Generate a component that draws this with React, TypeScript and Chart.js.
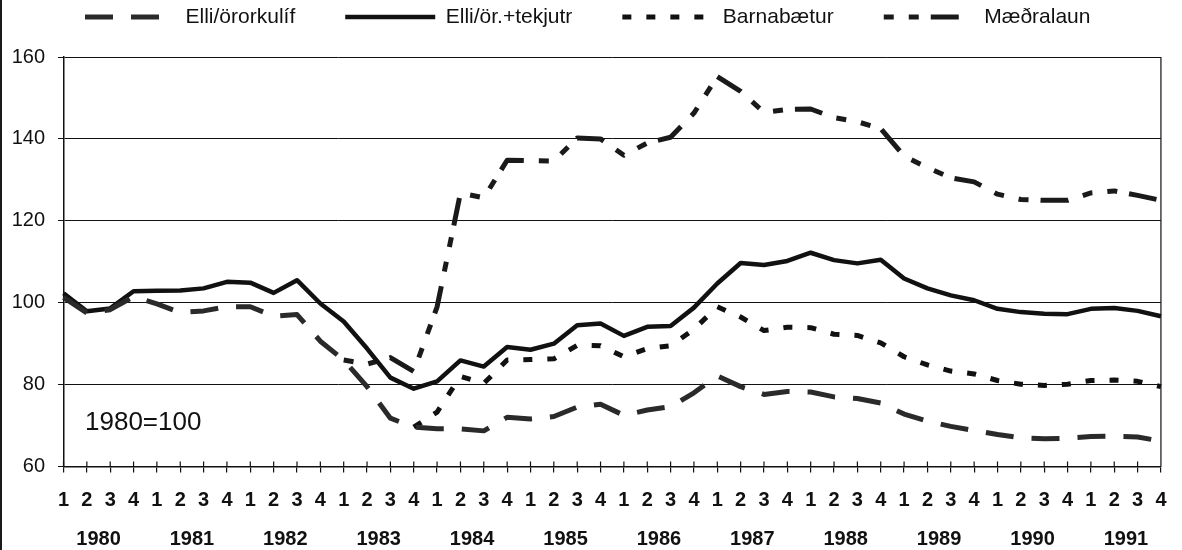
import React, { useEffect, useRef } from 'react';
import { Chart, registerables } from 'chart.js';

Chart.register(...registerables);

// ---- data ----
const years = ['1980', '1981', '1982', '1983', '1984', '1985', '1986', '1987', '1988', '1989', '1990', '1991'];
const quarterNames = ['1', '2', '3', '4'];
const quarterLabels = years.flatMap(() => quarterNames);

const seriesNames = ['Elli/örorkulíf', 'Elli/ör.+tekjutr', 'Barnabætur', 'Mæðralaun'];

const elliOrorkulif = [
  101.3, 97.5, 98.3, 101.5,
  99.7, 97.6, 98.0, 99.0,
  99.0, 96.7, 97.1, 90.6,
  86.0, 79.5, 71.8, 69.6,
  69.2, 69.2, 68.7, 72.0,
  71.6, 72.2, 74.5, 75.2,
  72.5, 73.8, 74.6, 78.0,
  82.1, 79.5, 77.6, 78.3,
  78.2, 77.0, 76.6, 75.5,
  72.8, 71.1, 69.8, 68.8,
  67.8, 67.0, 66.8, 66.9,
  67.3, 67.4, 67.2, 66.2,
];

const elliTekjutr = [
  102.3, 97.9, 98.6, 102.8,
  102.9, 103.0, 103.5, 105.1,
  104.9, 102.4, 105.5, 99.8,
  95.4, 88.8, 81.7, 79.0,
  80.8, 85.9, 84.4, 89.2,
  88.5, 90.0, 94.5, 94.9,
  91.9, 94.1, 94.3, 98.8,
  104.7, 109.7, 109.2, 110.2,
  112.2, 110.4, 109.6, 110.5,
  105.9, 103.5, 101.8, 100.6,
  98.5, 97.7, 97.3, 97.2,
  98.5, 98.7, 98.0, 96.7,
];

const barnabaetur = [
  101.3, 97.5, 98.3, 101.5,
  99.7, 97.6, 98.0, 99.0,
  99.0, 96.7, 97.1, 90.6,
  86.0, 79.5, 71.8, 69.6,
  73.3, 82.0, 80.3, 86.0,
  86.1, 86.3, 89.6, 89.5,
  86.8, 88.8, 89.5, 93.5,
  99.0, 96.5, 93.2, 94.0,
  93.9, 92.3, 92.0, 90.2,
  86.8, 84.8, 83.3, 82.6,
  81.0, 80.1, 79.8, 80.1,
  81.0, 81.1, 80.8, 79.5,
];

const maedralaun = [
  101.3, 97.5, 98.3, 101.5,
  99.7, 97.6, 98.0, 99.0,
  99.0, 96.7, 97.1, 90.6,
  86.0, 85.0, 86.6, 83.2,
  99.0, 126.8, 125.6, 134.8,
  134.7, 134.6, 140.2, 140.0,
  136.0, 139.0, 140.4, 146.3,
  155.2, 151.6, 146.5, 147.2,
  147.3, 145.2, 144.2, 142.5,
  135.8, 133.0, 130.5, 129.5,
  126.5, 125.2, 125.0, 125.0,
  126.8, 127.3, 126.2, 125.0,
];

const yMin = 60;
const yMax = 160;
const yStep = 20;
const baseNote = '1980=100';

const FONT = '"Liberation Sans", Arial, Helvetica, sans-serif';
const INK = '#111111';

// hide the stretch where a series lies exactly on top of Elli/örorkulíf
const hideShared = (series: number[]) => (ctx: any) => {
  const i0 = ctx.p0DataIndex;
  const i1 = ctx.p1DataIndex;
  return series[i0] === elliOrorkulif[i0] && series[i1] === elliOrorkulif[i1]
    ? 'rgba(0,0,0,0)'
    : undefined;
};

const framePlugin = {
  id: 'frameTicks',
  afterDraw(chart: any) {
    const { ctx, chartArea: a, scales } = chart;
    const xs = scales.x;
    ctx.save();
    ctx.strokeStyle = INK;
    ctx.lineWidth = 1.2;
    ctx.beginPath();
    for (let i = 0; i < xs.ticks.length; i++) {
      const px = xs.getPixelForTick(i);
      ctx.moveTo(px, a.bottom - 5);
      ctx.lineTo(px, a.bottom);
    }
    ctx.moveTo(a.right, a.top);
    ctx.lineTo(a.right, a.bottom);
    ctx.stroke();
    ctx.fillStyle = INK;
    ctx.font = `26px ${FONT}`;
    ctx.textAlign = 'left';
    ctx.textBaseline = 'middle';
    ctx.fillText(baseNote, a.left + 21.5, scales.y.getPixelForValue(70.6));
    ctx.restore();
  },
};

export default function App() {
  const ref = useRef<HTMLCanvasElement>(null);

  useEffect(() => {
    const canvas = ref.current;
    if (!canvas) return;
    Chart.defaults.font.family = FONT;
    const common = {
      pointRadius: 0,
      pointHoverRadius: 0,
      tension: 0,
      fill: false,
      borderCapStyle: 'butt',
      borderJoinStyle: 'round',
      xAxisID: 'x',
      yAxisID: 'y',
    };
    const defaultLabels = (Chart as any).defaults.plugins.legend.labels.generateLabels;
    const chart = new Chart(canvas, {
      type: 'line',
      data: {
        labels: quarterLabels,
        datasets: [
          { ...common, label: seriesNames[0], data: elliOrorkulif, borderColor: '#2a2a2a', backgroundColor: '#2a2a2a', borderWidth: 5, borderDash: [28, 18] },
          { ...common, label: seriesNames[1], data: elliTekjutr, borderColor: INK, backgroundColor: INK, borderWidth: 4.5 },
          { ...common, label: seriesNames[2], data: barnabaetur, borderColor: INK, backgroundColor: INK, borderWidth: 5, borderDash: [9, 15], segment: { borderColor: hideShared(barnabaetur) } },
          { ...common, label: seriesNames[3], data: maedralaun, borderColor: '#1a1a1a', backgroundColor: '#1a1a1a', borderWidth: 5, borderDash: [10, 15, 10, 12, 28, 15], segment: { borderColor: hideShared(maedralaun) } },
        ] as any,
      },
      options: {
        responsive: false,
        animation: false,
        devicePixelRatio: 1,
        layout: { padding: { top: -43.5, right: 6.5, bottom: 0, left: 0 } },
        plugins: {
          legend: {
            display: true,
            position: 'top',
            align: 'center',
            labels: {
              usePointStyle: true,
              pointStyle: 'line',
              pointStyleWidth: 90,
              padding: 50,
              color: INK,
              font: { size: 21, family: FONT },
              generateLabels: (ch: any) =>
                defaultLabels(ch).map((it: any) => {
                  const ds = ch.data.datasets[it.datasetIndex];
                  return {
                    ...it,
                    pointStyle: 'line',
                    lineDash: ds.borderDash || [],
                    lineDashOffset: 0,
                    lineWidth: ds.borderWidth,
                    strokeStyle: ds.borderColor,
                    fillStyle: ds.borderColor,
                    lineCap: 'butt',
                  };
                }),
            },
          },
          subtitle: {
            display: true,
            text: '',
            position: 'top',
            weight: 500,
            padding: { top: 0, bottom: 9.5 },
            font: { size: 10, lineHeight: 1 },
          },
          title: { display: false },
          tooltip: { enabled: false },
        },
        scales: {
          x: {
            type: 'category',
            position: 'bottom',
            offset: false,
            grid: { display: true, drawOnChartArea: false, drawTicks: true, tickLength: 6, color: INK, lineWidth: 1.2 },
            border: { display: true, color: INK, width: 1.5 },
            ticks: { autoSkip: false, maxRotation: 0, minRotation: 0, padding: 15.5, color: INK, font: { size: 20, weight: 'bold', lineHeight: 1.2 } },
            afterFit: (s: any) => { s.height = 50; },
          },
          x2: {
            type: 'linear',
            position: 'bottom',
            weight: 1,
            min: 0,
            max: quarterLabels.length - 1,
            grid: { display: false, drawTicks: false, tickLength: 0 },
            border: { display: false },
            ticks: {
              autoSkip: false,
              maxRotation: 0,
              minRotation: 0,
              padding: 10.5,
              color: INK,
              font: { size: 20, weight: 'bold', lineHeight: 1.2 },
              callback: (_v: any, i: number) => years[i],
            },
            afterBuildTicks: (axis: any) => {
              axis.ticks = years.map((_, i) => ({ value: i * quarterNames.length + 1.5 }));
            },
            afterFit: (s: any) => { s.height = 33.5; },
          },
          y: {
            min: yMin,
            max: yMax,
            ticks: { stepSize: yStep, padding: 13, color: INK, font: { size: 20, lineHeight: 1.2 } },
            grid: { color: INK, lineWidth: 1, tickLength: 5.5 },
            border: { display: true, color: INK, width: 1.5 },
            afterFit: (s: any) => { s.width = 63.5; },
          },
        },
      } as any,
      plugins: [framePlugin],
    });
    return () => chart.destroy();
  }, []);

  return (
    <div style={{ position: 'fixed', left: 0, top: 0, width: 1182, height: 550, background: '#fff', overflow: 'hidden' }}>
      <canvas ref={ref} width={1182} height={550} style={{ display: 'block', width: 1182, height: 550 }} />
      <div style={{ position: 'absolute', left: 0, top: 0, width: 2, height: 550, background: '#1a1a1a' }} />
    </div>
  );
}
